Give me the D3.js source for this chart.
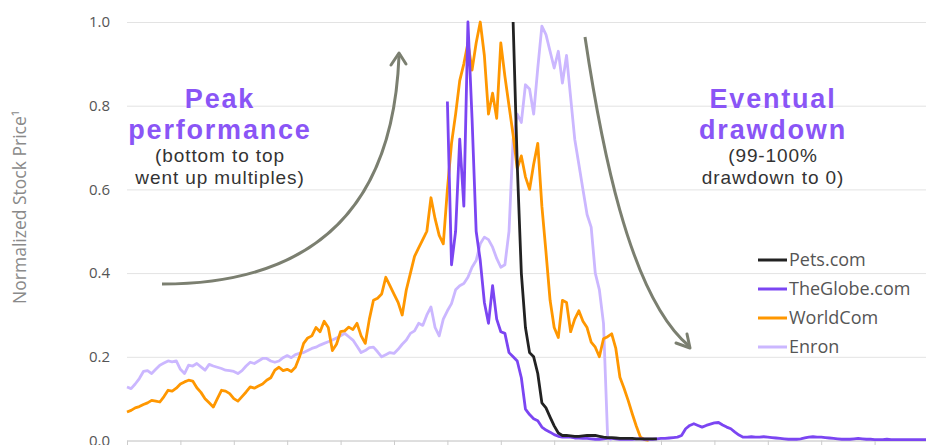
<!DOCTYPE html>
<html>
<head>
<meta charset="utf-8">
<script src="https://cdn.jsdelivr.net/npm/d3@7"></script>
<style>
  body { margin: 0; background: #fff; }
</style>
</head>
<body>
<div id="chart"></div>
<script>
// weekly normalized prices (1.0 = each stock's own peak), x = weeks from start
var seriesNames = ['Pets.com', 'TheGlobe.com', 'WorldCom', 'Enron'];
var seriesColors = ['#222222', '#7b45f2', '#ff9700', '#cbb7ff'];

var worldcomStart = 0;
var worldcomPrices = [
  0.068, 0.072, 0.078, 0.081, 0.086, 0.090, 0.096, 0.094, 0.092, 0.105,
  0.120, 0.118, 0.125, 0.135, 0.140, 0.144, 0.142, 0.126, 0.115, 0.100,
  0.090, 0.080, 0.100, 0.120, 0.118, 0.112, 0.100, 0.094, 0.105, 0.116,
  0.128, 0.125, 0.130, 0.135, 0.144, 0.150, 0.168, 0.175, 0.167, 0.170,
  0.165, 0.175, 0.200, 0.232, 0.245, 0.250, 0.270, 0.260, 0.285, 0.270,
  0.215, 0.230, 0.260, 0.262, 0.271, 0.265, 0.280, 0.250, 0.232, 0.290,
  0.335, 0.340, 0.350, 0.390, 0.370, 0.350, 0.330, 0.300, 0.360, 0.400,
  0.440, 0.460, 0.480, 0.500, 0.580, 0.530, 0.490, 0.470, 0.600, 0.710,
  0.780, 0.860, 0.900, 0.950, 0.885, 0.950, 1.000, 0.920, 0.780, 0.830,
  0.770, 0.950, 0.870, 0.800, 0.730, 0.650, 0.680, 0.630, 0.600, 0.660,
  0.710, 0.560, 0.450, 0.335, 0.270, 0.246, 0.335, 0.330, 0.260, 0.290,
  0.310, 0.285, 0.270, 0.235, 0.223, 0.200, 0.243, 0.248, 0.255, 0.220,
  0.151, 0.125, 0.096, 0.064, 0.034, 0.008, 0.002, 0.000
];

var enronStart = 0;
var enronPrices = [
  0.128, 0.124, 0.135, 0.148, 0.165, 0.167, 0.160, 0.170, 0.180, 0.185,
  0.190, 0.188, 0.190, 0.170, 0.160, 0.180, 0.178, 0.184, 0.176, 0.168,
  0.182, 0.178, 0.175, 0.172, 0.168, 0.167, 0.165, 0.160, 0.167, 0.178,
  0.187, 0.184, 0.190, 0.196, 0.196, 0.190, 0.187, 0.190, 0.198, 0.203,
  0.198, 0.205, 0.208, 0.210, 0.215, 0.220, 0.223, 0.228, 0.232, 0.236,
  0.240, 0.245, 0.250, 0.256, 0.248, 0.240, 0.225, 0.210, 0.215, 0.222,
  0.223, 0.212, 0.200, 0.205, 0.210, 0.208, 0.218, 0.230, 0.240, 0.256,
  0.262, 0.280, 0.275, 0.300, 0.319, 0.270, 0.250, 0.290, 0.310, 0.327,
  0.360, 0.370, 0.375, 0.390, 0.414, 0.430, 0.470, 0.486, 0.480, 0.462,
  0.435, 0.414, 0.420, 0.500, 0.720, 0.780, 0.760, 0.850, 0.840, 0.780,
  0.890, 0.990, 0.970, 0.930, 0.890, 0.930, 0.854, 0.920, 0.820, 0.720,
  0.660, 0.600, 0.540, 0.510, 0.400, 0.360, 0.280, 0.010, 0.000
];

var globeStart = 78;
var globePrices = [
  0.810, 0.420, 0.500, 0.720, 0.560, 1.000, 0.770, 0.500, 0.430, 0.330,
  0.280, 0.370, 0.290, 0.260, 0.256, 0.210, 0.200, 0.190, 0.150, 0.075,
  0.062, 0.052, 0.047, 0.032, 0.025, 0.020, 0.014, 0.010, 0.008, 0.008,
  0.008, 0.006, 0.006, 0.005, 0.005, 0.004, 0.003, 0.003, 0.004, 0.005,
  0.005, 0.004, 0.003, 0.003, 0.003, 0.003, 0.004, 0.004, 0.003, 0.003,
  0.003, 0.004, 0.005, 0.005, 0.006, 0.007, 0.008, 0.012, 0.028, 0.036,
  0.040, 0.036, 0.032, 0.036, 0.039, 0.042, 0.043, 0.037, 0.032, 0.028,
  0.020, 0.013, 0.008, 0.008, 0.009, 0.008, 0.008, 0.009, 0.008, 0.007,
  0.006, 0.005, 0.004, 0.003, 0.003, 0.003, 0.004, 0.006, 0.008, 0.009,
  0.008, 0.008, 0.007, 0.006, 0.005, 0.004, 0.003, 0.003, 0.003, 0.004,
  0.005, 0.004, 0.003, 0.003, 0.002, 0.002, 0.002, 0.003, 0.002, 0.002,
  0.002, 0.002, 0.002, 0.002, 0.002, 0.002, 0.002, 0.002
];

var petsStart = 94;
var petsPrices = [
  1.000, 0.660, 0.400, 0.270, 0.210, 0.200, 0.160, 0.090, 0.078, 0.056,
  0.035, 0.018, 0.012, 0.012, 0.011, 0.010, 0.010, 0.011, 0.012, 0.012,
  0.012, 0.010, 0.008, 0.007, 0.007, 0.006, 0.005, 0.005, 0.005, 0.005,
  0.004, 0.004, 0.004, 0.004, 0.004, 0.004
];

var yTicks = [0, 0.2, 0.4, 0.6, 0.8, 1.0];
var xTickWeeks = [0, 13, 26, 39, 52, 65, 78, 91, 104, 117, 130, 143, 156, 169, 182, 195];

var width = 926;
var height = 445;
var plotLeft = 127;
var plotRight = 928;
var plotTop = 22;
var plotBottom = 440.5;

var mainFont = '"Open Sans", "Noto Sans", sans-serif';
var noteFont = '"Liberation Sans", Arial, sans-serif';
var accentColor = '#8a55f6';
var arrowColor = '#7b7f70';
var textColor = '#555555';

window.onload = function() {
    var svg = d3.select('#chart').append('svg')
        .attr('width', width)
        .attr('height', height)
        .style('font-family', mainFont);

    var x = d3.scaleLinear().domain([0, 195]).range([plotLeft, plotRight]);
    var y = d3.scaleLinear().domain([0, 1]).range([plotBottom, plotTop]);

    drawAxes(svg, x, y);
    drawAnnotations(svg);
    drawSeries(svg, x, y);
    drawLegend(svg);
};

function drawAxes(svg, x, y) {
    // horizontal gridlines
    svg.append('g')
        .attr('transform', 'translate(' + plotLeft + ',0)')
        .call(d3.axisLeft(y).tickValues(yTicks).tickSize(-(width - plotLeft)).tickFormat(''))
        .call(function(g) {
            g.select('.domain').remove();
            g.selectAll('line').attr('stroke', '#e3e3e3').attr('stroke-width', 1);
        });

    // y tick labels
    svg.append('g')
        .attr('transform', 'translate(' + plotLeft + ',0)')
        .call(d3.axisLeft(y).tickValues(yTicks).tickSize(0).tickPadding(17).tickFormat(d3.format('.1f')))
        .call(function(g) {
            g.select('.domain').remove();
            g.selectAll('text')
                .attr('fill', textColor)
                .style('font-size', '15px')
                .style('font-family', mainFont);
        });

    // x axis baseline with ticks (labels fall outside the picture)
    svg.append('g')
        .attr('transform', 'translate(0,' + plotBottom + ')')
        .call(d3.axisBottom(x).tickValues(xTickWeeks).tickSize(6).tickFormat(''))
        .call(function(g) {
            g.select('.domain').attr('stroke', '#cccccc');
            g.selectAll('line').attr('stroke', '#cccccc');
        });

    // y axis title
    svg.append('text')
        .attr('transform', 'translate(26,207) rotate(-90)')
        .attr('text-anchor', 'middle')
        .attr('fill', '#8a8a8a')
        .style('font-size', '17.5px')
        .text('Normalized Stock Price\u00b9');
}

function drawSeries(svg, x, y) {
    var line = d3.line()
        .x(function(d) { return x(d.w); })
        .y(function(d) { return y(d.v); });

    var series = [
        { start: enronStart, values: enronPrices, color: seriesColors[3] },
        { start: worldcomStart, values: worldcomPrices, color: seriesColors[2] },
        { start: globeStart, values: globePrices, color: seriesColors[1] },
        { start: petsStart, values: petsPrices, color: seriesColors[0] }
    ];

    series.forEach(function(s) {
        var pts = s.values.map(function(v, i) { return { w: s.start + i, v: v }; });
        svg.append('path')
            .datum(pts)
            .attr('d', line)
            .attr('fill', 'none')
            .attr('stroke', s.color)
            .attr('stroke-width', 2.8)
            .attr('stroke-linejoin', 'round');
    });
}

function drawAnnotations(svg) {
    var arrows = [
        { d: 'M162,284 Q390,284 399,56', head: 'M391,65 L399,53 L406,64' },
        { d: 'M585,37 C600,137 628,295 689,346', head: 'M676,343 L690,348 L687,334' }
    ];
    arrows.forEach(function(a) {
        svg.append('path').attr('d', a.d)
            .attr('fill', 'none').attr('stroke', arrowColor).attr('stroke-width', 3);
        svg.append('path').attr('d', a.head)
            .attr('fill', 'none').attr('stroke', arrowColor).attr('stroke-width', 3)
            .attr('stroke-linecap', 'round').attr('stroke-linejoin', 'round');
    });

    // two bold heading lines + two plain lines per note
    var notes = [
        { cx: 220, lines: ['Peak', 'performance'], sub: ['(bottom to top', 'went up multiples)'] },
        { cx: 773, lines: ['Eventual', 'drawdown'], sub: ['(99-100%', 'drawdown to 0)'] }
    ];
    notes.forEach(function(n) {
        var g = svg.append('g')
            .attr('text-anchor', 'middle')
            .style('font-family', noteFont);
        n.lines.forEach(function(t, i) {
            g.append('text')
                .attr('x', n.cx).attr('y', 108 + i * 31)
                .attr('fill', accentColor)
                .style('font-size', '27px')
                .style('font-weight', 700)
                .style('letter-spacing', '1.8px')
                .text(t);
        });
        n.sub.forEach(function(t, i) {
            g.append('text')
                .attr('x', n.cx).attr('y', 162 + i * 22)
                .attr('fill', '#333333')
                .style('font-size', '19px')
                .style('letter-spacing', '0.9px')
                .text(t);
        });
    });
}

function drawLegend(svg) {
    var legendY = [260, 289, 318, 347];
    seriesNames.forEach(function(name, i) {
        svg.append('line')
            .attr('x1', 758).attr('x2', 787)
            .attr('y1', legendY[i]).attr('y2', legendY[i])
            .attr('stroke', seriesColors[i])
            .attr('stroke-width', 3);
        svg.append('text')
            .attr('x', 789).attr('y', legendY[i])
            .attr('dy', '0.35em')
            .attr('fill', textColor)
            .style('font-size', '18px')
            .text(name);
    });
}
</script>
</body>
</html>
